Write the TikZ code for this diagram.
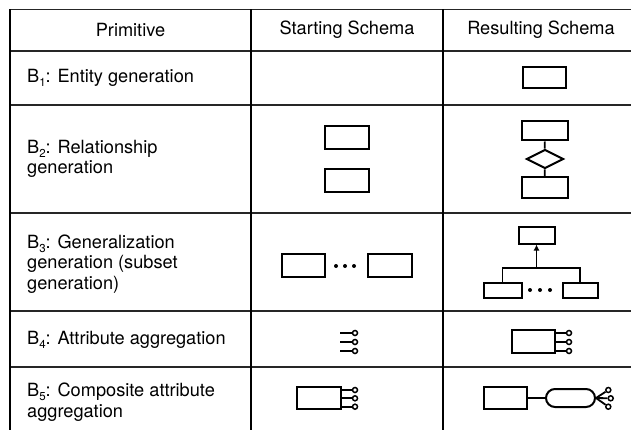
\documentclass[tikz,border=0pt]{standalone}
\usepackage{fontspec}
\setmainfont{TeX Gyre Heros}
\usetikzlibrary{shapes.geometric,shapes.misc,arrows.meta}
% lowered small digit for the primitive names B1 ... B5
\newcommand\subdigit[1]{\raisebox{-0.45ex}{\fontsize{11.5}{11.5}\selectfont #1}}

\begin{document}
\begin{tikzpicture}[x=1pt,y=-1pt,
  rowrule/.style={line width=1.6pt, black!85},
  colrule/.style={line width=2.1pt},
  ent/.style={draw, line width=2pt, rectangle, inner sep=0pt},
  rel/.style={draw, line width=2pt, diamond, inner sep=0pt, minimum width=37pt, minimum height=19pt},
  attr/.style={draw, line width=1.5pt, circle, inner sep=0pt, minimum size=5pt},
  link/.style={line width=1.8pt},
  dotmark/.style={fill, circle, inner sep=0pt, minimum size=4pt},
  cell/.style={font=\fontsize{18.2}{20.5}\selectfont, inner sep=0pt},
  prim/.style={cell, anchor=west, align=left},
]
\useasboundingbox (0,0) rectangle (631,430);

% table rules
\draw[rowrule] (10,9.5) -- (631,9.5);
\foreach \y in {51,105,213,311,367} \draw[rowrule] (10,\y) -- (631,\y);
\foreach \x in {10,251,443} \draw[colrule] (\x,9.5) -- (\x,430);

% header
\node[cell] (hp) at (130.5,30) {Primitive};
\node[cell] (hs) at (347,30) {Starting Schema};
\node[cell] (hr) at (541,30) {Resulting Schema};

% primitive names
\node[prim] (p1) at (27,78) {B\subdigit{1}: Entity generation};
\node[prim] (p2) at (27,159) {B\subdigit{2}: Relationship\\generation};
\node[prim] (p3) at (27,264) {B\subdigit{3}: Generalization\\generation (subset\\generation)};
\node[prim] (p4) at (27,340) {B\subdigit{4}: Attribute aggregation};
\node[prim] (p5) at (27,402) {B\subdigit{5}: Composite attribute\\aggregation};

% B1: entity generation
\node[ent, minimum width=43pt, minimum height=21pt] (e1) at (544,78) {};

% B2: relationship generation
\node[ent, minimum width=44pt, minimum height=23pt] (s2a) at (346.5,138) {};
\node[ent, minimum width=44pt, minimum height=23pt] (s2b) at (346.5,181) {};
\node[ent, minimum width=46pt, minimum height=19pt] (r2a) at (544.5,131) {};
\node[rel] (r2d) at (545,159) {};
\node[ent, minimum width=46pt, minimum height=21pt] (r2b) at (544.5,188) {};
\draw[link] (r2a) -- (r2d);
\draw[link] (r2d) -- (r2b);

% B3: generalization generation
\node[ent, minimum width=43pt, minimum height=23pt] (s3a) at (303,265) {};
\node[ent, minimum width=44pt, minimum height=23pt] (s3b) at (389.5,265) {};
\foreach \x [count=\i] in {336,345,354} \node[dotmark] (s3d\i) at (\x,266) {};
\node[ent, minimum width=36pt, minimum height=16pt] (g3) at (536.5,235.5) {};
\node[ent, minimum width=38pt, minimum height=15pt] (k3a) at (502.5,290) {};
\node[ent, minimum width=35pt, minimum height=15pt] (k3b) at (580,290) {};
\foreach \x [count=\i] in {530,540,550} \node[dotmark] (r3d\i) at (\x,290) {};
\coordinate (bar) at (g3.south |- 0,268);
\draw[link] (k3a.north) -- (k3a.north |- bar) -| (k3b.north);
\draw[link, -{Latex[length=6pt,width=6pt]}] (bar) -- (g3.south);

% B4: attribute aggregation
\foreach \y [count=\i] in {333,342,351} {
  \node[attr] (s4c\i) at (355,\y) {};
  \coordinate (s4e\i) at (340,\y);
  \draw[link] (s4e\i) -- (s4c\i);
}
\node[ent, minimum width=43pt, minimum height=23pt] (r4) at (533,341) {};
\foreach \y [count=\i] in {333,342,351} {
  \node[attr] (r4c\i) at (569,\y) {};
  \draw[link] (r4c\i -| r4.east) -- (r4c\i);
}

% B5: composite attribute aggregation
\node[ent, minimum width=44pt, minimum height=22pt] (s5) at (318.5,397.5) {};
\foreach \y [count=\i] in {390,398.3,406.7} {
  \node[attr] (s5c\i) at (355,\y) {};
  \draw[link] (s5c\i -| s5.east) -- (s5c\i);
}
\node[ent, minimum width=43pt, minimum height=22pt] (r5) at (505,397.5) {};
\node[draw, line width=2pt, rounded rectangle, inner sep=0pt,
      minimum width=49pt, minimum height=18pt] (cmp) at (570.5,398) {};
\draw[link] (r5.east |- cmp.west) -- (cmp.west);
\node[attr] (r5c1) at (608.3,390) {};
\node[attr] (r5c2) at (610.7,398.3) {};
\node[attr] (r5c3) at (608.3,406.7) {};
\foreach \i in {1,2,3} \draw[link] (cmp.east) -- (r5c\i);

\end{tikzpicture}
\end{document}
